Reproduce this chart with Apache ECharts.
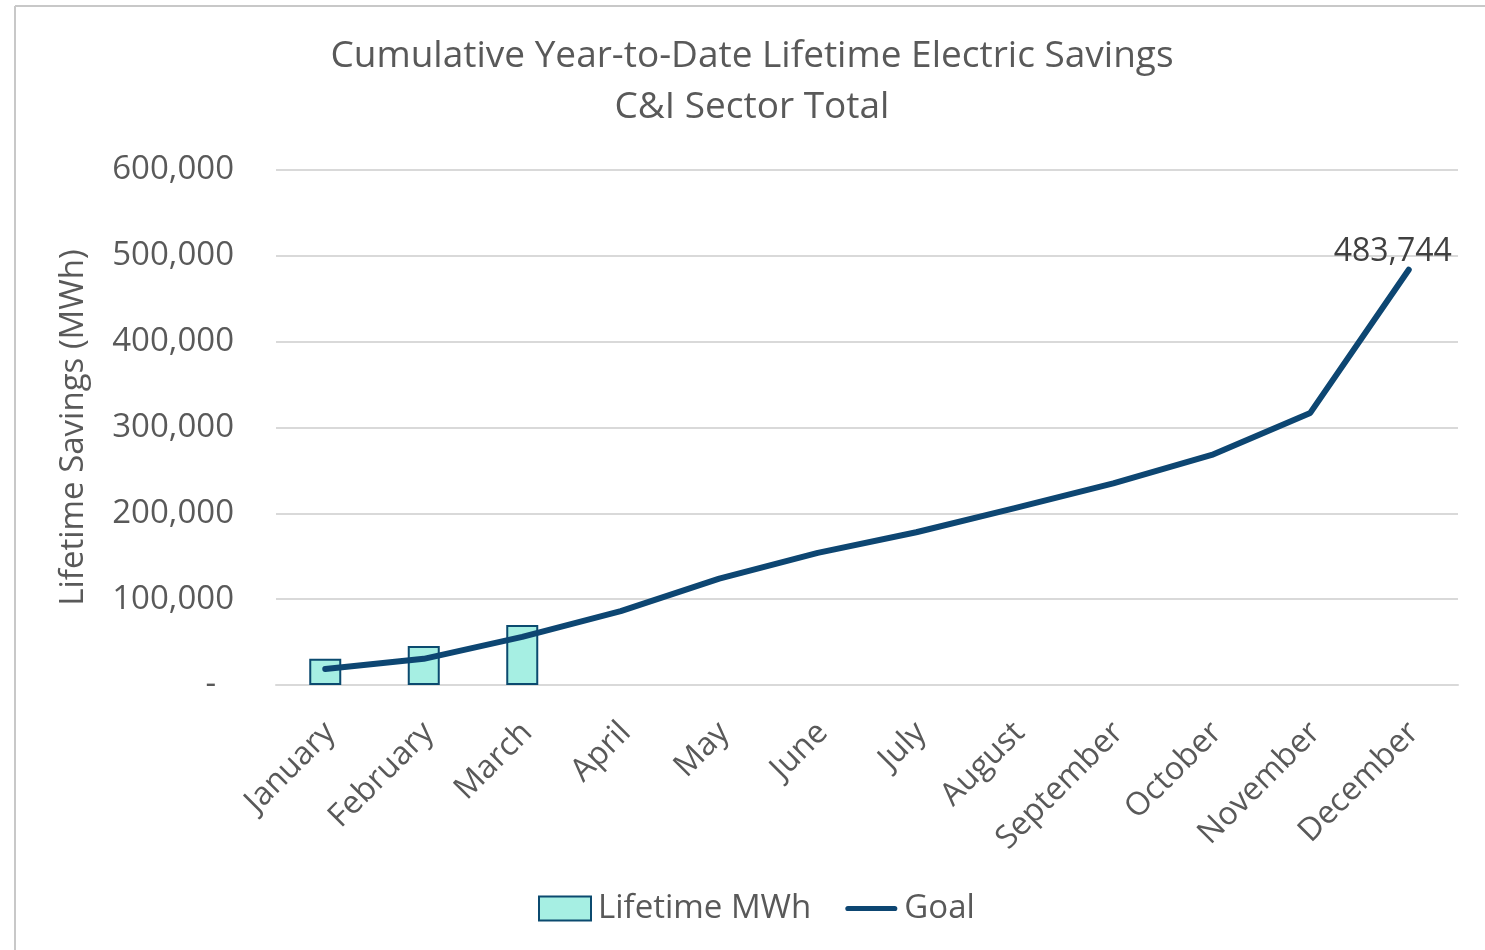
<!DOCTYPE html>
<html>
<head>
<meta charset="utf-8">
<script src="https://cdn.jsdelivr.net/npm/echarts@6/dist/echarts.min.js"></script>
<style>
html,body{margin:0;padding:0;background:#fff;}
#chart{width:1485px;height:950px;}
</style>
</head>
<body>
<div id="chart"></div>
<script>
const months = ['January','February','March','April','May','June','July','August','September','October','November','December'];
const lifetimeMWh = [30500, 45500, 70000, null, null, null, null, null, null, null, null, null];
const goal = [18600, 30500, 56000, 86000, 124000, 154000, 178000, 206000, 235000, 268000, 317000, 483744];
const yTicks = [0, 100000, 200000, 300000, 400000, 500000, 600000];

const FONT = '"Open Sans", sans-serif';
const TXT = '#595959';
const chart = echarts.init(document.getElementById('chart'));

const goalData = goal.map((v, i) => i === goal.length - 1 ? {
  value: v,
  label: {
    show: true, position: 'top', distance: 2, offset: [-16, 0],
    formatter: p => p.value.toLocaleString('en-US'),
    color: '#404040', fontSize: 32, fontFamily: FONT
  }
} : v);

chart.setOption({
  animation: false,
  graphic: [
    {type: 'line', shape: {x1: 15, y1: 6, x2: 1485, y2: 6}, style: {stroke: '#c8c8c8', lineWidth: 2}},
    {type: 'line', shape: {x1: 15, y1: 6, x2: 15, y2: 950}, style: {stroke: '#c8c8c8', lineWidth: 2}}
  ],
  title: {
    text: 'Cumulative Year-to-Date Lifetime Electric Savings\nC&I Sector Total',
    left: 747, top: 26, textAlign: 'center',
    textStyle: {fontFamily: FONT, fontSize: 37, fontWeight: 'normal', color: TXT, lineHeight: 51}
  },
  legend: {
    bottom: 20, left: 533,
    itemGap: 34,
    textStyle: {fontFamily: FONT, fontSize: 33, color: TXT, padding: [0, 0, 0, 2]},
    data: [
      {name: 'Lifetime MWh', icon: 'rect', itemStyle: {color: '#a6efe3', borderColor: '#0b4a6f', borderWidth: 2}},
      {name: 'Goal', icon: 'path://M3,-3 L57,-3 A3,3 0 0 1 57,3 L3,3 A3,3 0 0 1 3,-3 Z', itemStyle: {color: '#0d4672'}}
    ],
    itemWidth: 52, itemHeight: 24
  },
  grid: {left: 276, right: 27, top: 170, bottom: 265},
  xAxis: {
    type: 'category', data: months, boundaryGap: true,
    axisLine: {show: true, lineStyle: {color: '#d9d9d9', width: 2}},
    axisTick: {show: false},
    axisLabel: {rotate: 45, fontFamily: FONT, fontSize: 32, color: TXT, margin: 25, interval: 0, verticalAlign: 'top', padding: [0, 9, 0, 0]}
  },
  yAxis: {
    type: 'value', min: 0, max: 600000, interval: 100000,
    name: 'Lifetime Savings (MWh)', nameLocation: 'middle', nameGap: 186,
    nameTextStyle: {fontFamily: FONT, fontSize: 33, color: TXT},
    axisLine: {show: false}, axisTick: {show: false},
    splitLine: {lineStyle: {color: '#d9d9d9', width: 2}},
    axisLabel: {
      fontFamily: FONT, fontSize: 33, color: TXT, margin: 42,
      formatter: v => v === 0 ? '{d|-}' : v.toLocaleString('en-US'),
      rich: {d: {fontFamily: FONT, fontSize: 33, color: TXT, padding: [0, 18, 0, 0]}}
    }
  },
  series: [
    {
      name: 'Lifetime MWh', type: 'bar', data: lifetimeMWh, barWidth: 32,
      itemStyle: {color: '#a6efe3', borderColor: '#0b4a6f', borderWidth: 2}
    },
    {
      name: 'Goal', type: 'line', data: goalData, symbol: 'circle', symbolSize: 0.1, showSymbol: true,
      lineStyle: {color: '#0d4672', width: 6, cap: 'round', join: 'round'},
      itemStyle: {color: '#0d4672'}
    }
  ]
});
</script>
</body>
</html>
